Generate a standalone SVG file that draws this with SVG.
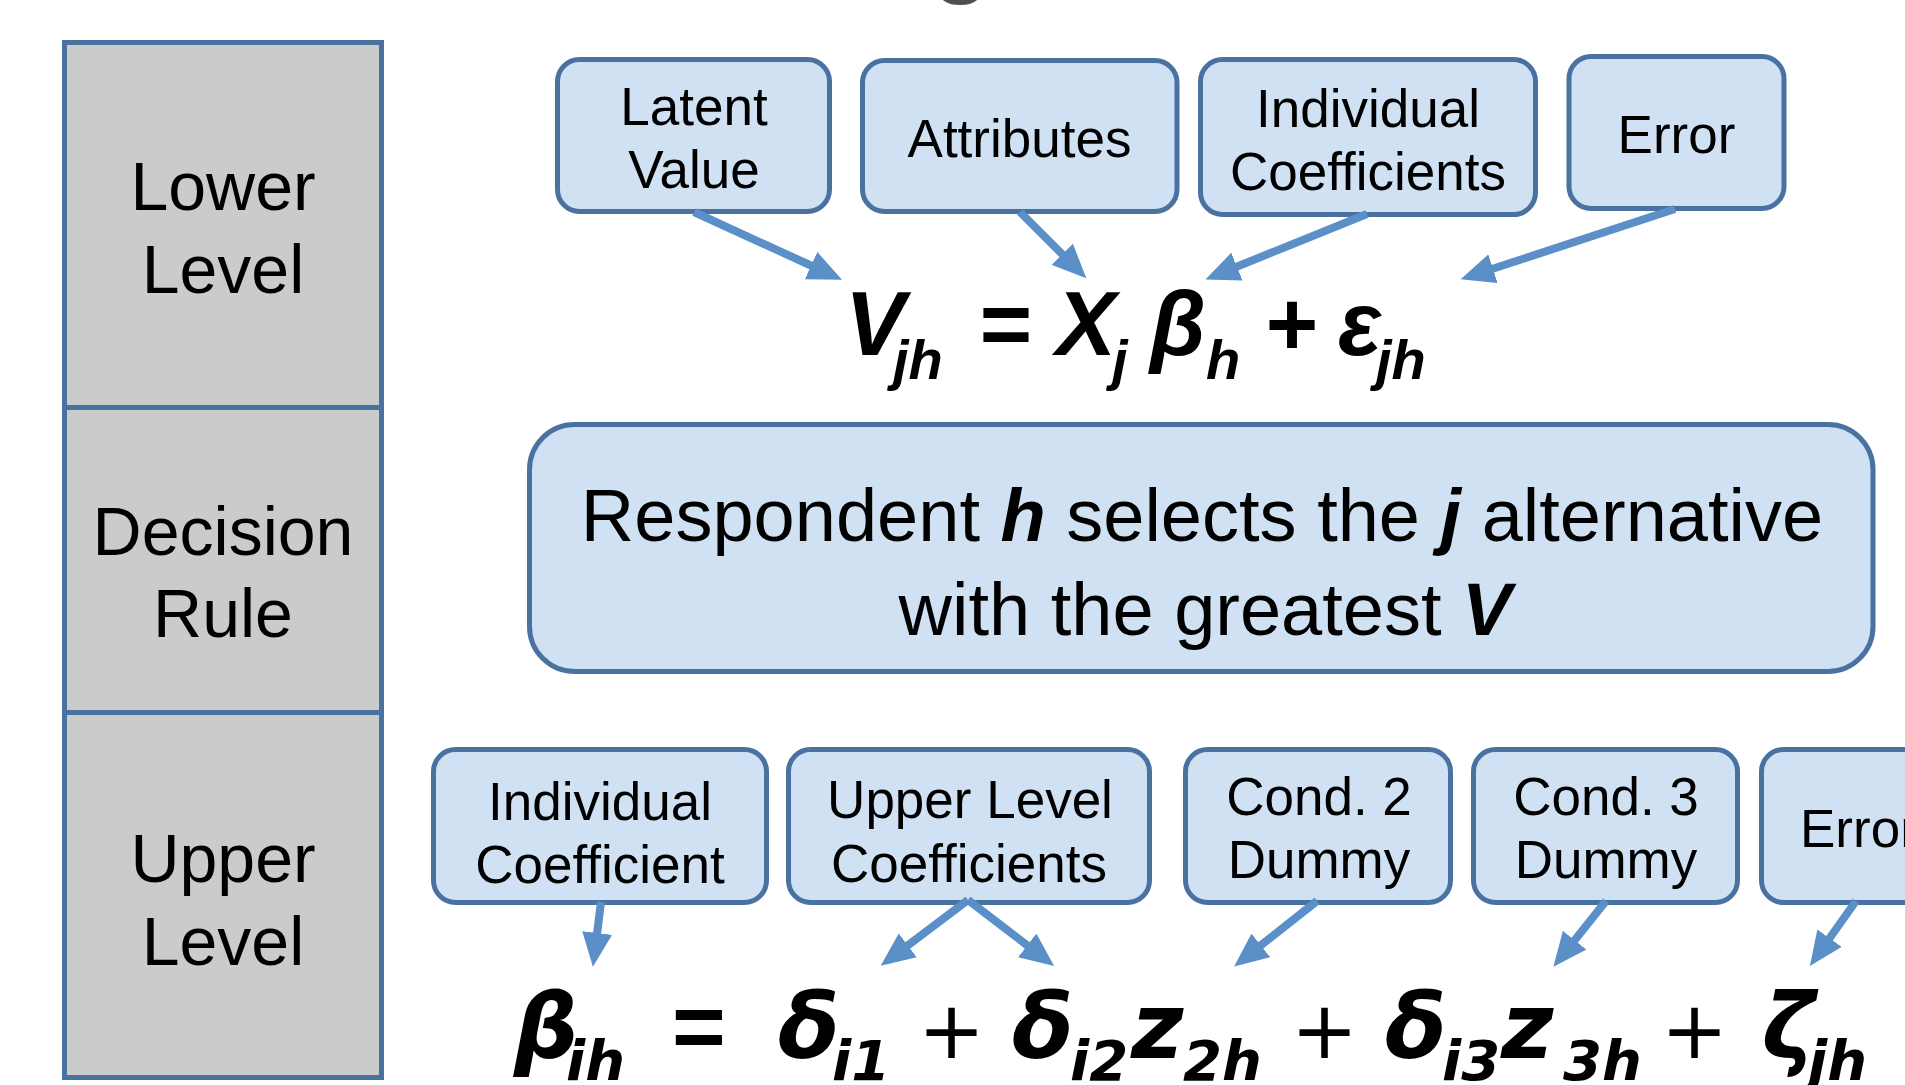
<svg xmlns="http://www.w3.org/2000/svg" width="1905" height="1085" viewBox="0 0 1905 1085">
<defs>
<style>
.col{fill:#cbcbcb;stroke:#4a72a0;stroke-width:5}
.box{fill:#d0e1f3;stroke:#4a72a0;stroke-width:5}
.lbl{font-family:"Liberation Sans",Arial,sans-serif;font-size:53px;fill:#000;text-anchor:middle}
.side{font-family:"Liberation Sans",Arial,sans-serif;font-size:68px;fill:#000;text-anchor:middle}
.rule{font-family:"Liberation Sans",Arial,sans-serif;font-size:74px;fill:#000;text-anchor:middle}
.bi{font-weight:bold;font-style:italic}
.eq1{font-family:"Liberation Sans",Arial,sans-serif;font-weight:bold;font-style:italic;fill:#000}
.eq2{font-family:"DejaVu Sans",sans-serif;font-weight:bold;font-style:oblique;fill:#000}
.conn line{stroke:#5a8fc8;stroke-width:8;marker-end:url(#ah)}
</style>
<marker id="ah" markerUnits="userSpaceOnUse" markerWidth="34" markerHeight="30" viewBox="0 0 34 30" refX="1" refY="15" orient="auto">
<path d="M0,0 L34,15 L0,30 z" fill="#5a8fc8"/>
</marker>
</defs>
<rect width="1905" height="1085" fill="#fff"/>
<text x="932" y="-15" font-family="Liberation Sans,sans-serif" font-weight="bold" font-size="96" fill="#4f4f4f">g</text>

<g id="lower-level">
<rect class="col" x="64.5" y="42.5" width="317" height="365"/>
<text class="side" x="223" y="210">Lower</text>
<text class="side" x="223" y="293">Level</text>
</g>
<g id="decision-rule">
<rect class="col" x="64.5" y="407.5" width="317" height="305"/>
<text class="side" x="223" y="555">Decision</text>
<text class="side" x="223" y="637">Rule</text>
</g>
<g id="upper-level">
<rect class="col" x="64.5" y="712.5" width="317" height="365"/>
<text class="side" x="223" y="882">Upper</text>
<text class="side" x="223" y="965">Level</text>
</g>

<g id="latent-value">
<rect class="box" x="557.5" y="59.5" width="272" height="152" rx="22"/>
<text class="lbl" x="694" y="125">Latent</text>
<text class="lbl" x="694" y="188">Value</text>
</g>
<g id="attributes">
<rect class="box" x="862.5" y="60.5" width="314.5" height="151" rx="22"/>
<text class="lbl" x="1019.5" y="157">Attributes</text>
</g>
<g id="individual-coefficients">
<rect class="box" x="1200.5" y="59.5" width="335" height="155" rx="22"/>
<text class="lbl" x="1368" y="127">Individual</text>
<text class="lbl" x="1368" y="190">Coefficients</text>
</g>
<g id="error-top">
<rect class="box" x="1569" y="56.5" width="215" height="152" rx="22"/>
<text class="lbl" x="1676.5" y="153">Error</text>
</g>

<g id="equation-lower">
<text class="eq1" font-size="90" y="355"><tspan x="845">V</tspan><tspan x="978">=</tspan><tspan x="1056">X</tspan><tspan x="1150">β</tspan><tspan x="1264">+</tspan><tspan x="1338">ε</tspan></text>
<text class="eq1" font-size="56" y="379"><tspan x="893">jh</tspan><tspan x="1112">j</tspan><tspan x="1206">h</tspan><tspan x="1376">jh</tspan></text>
</g>

<g id="decision-box">
<rect class="box" x="529.5" y="424.5" width="1343.5" height="247" rx="45"/>
<text class="rule" x="1202" y="541">Respondent <tspan class="bi">h</tspan> selects the <tspan class="bi">j</tspan> alternative</text>
<text class="rule" x="1205" y="635">with the greatest <tspan class="bi">V</tspan></text>
</g>

<g id="individual-coefficient">
<rect class="box" x="433.5" y="749.5" width="333" height="153" rx="22"/>
<text class="lbl" x="600" y="820">Individual</text>
<text class="lbl" x="600" y="883">Coefficient</text>
</g>
<g id="upper-level-coefficients">
<rect class="box" x="788.5" y="749.5" width="361" height="153" rx="22"/>
<text class="lbl" x="970" y="818">Upper Level</text>
<text class="lbl" x="969" y="882">Coefficients</text>
</g>
<g id="cond2-dummy">
<rect class="box" x="1185.5" y="749.5" width="265" height="153" rx="22"/>
<text class="lbl" x="1319" y="815">Cond. 2</text>
<text class="lbl" x="1319" y="878">Dummy</text>
</g>
<g id="cond3-dummy">
<rect class="box" x="1473.5" y="749.5" width="264" height="153" rx="22"/>
<text class="lbl" x="1606" y="815">Cond. 3</text>
<text class="lbl" x="1606" y="878">Dummy</text>
</g>
<g id="error-bottom">
<rect class="box" x="1761.5" y="749.5" width="300" height="153" rx="22"/>
<text class="lbl" x="1800" y="847" style="text-anchor:start">Error</text>
</g>

<g id="equation-upper">
<text class="eq2" font-size="90" y="1058"><tspan x="514">β</tspan><tspan x="778">δ</tspan><tspan x="1012">δ</tspan><tspan x="1131">z</tspan><tspan x="1385">δ</tspan><tspan x="1501">z</tspan><tspan x="1762">ζ</tspan></text>
<text font-family="Liberation Sans,sans-serif" font-weight="bold" font-size="92" y="1058" x="672" fill="#000">=</text>
<text font-family="DejaVu Sans,sans-serif" font-style="oblique" font-size="80" y="1058" fill="#000"><tspan x="918">+</tspan><tspan x="1291">+</tspan><tspan x="1661">+</tspan></text>
<text class="eq2" font-size="56" y="1080"><tspan x="566">ih</tspan><tspan x="832">i1</tspan><tspan x="1070">i2</tspan><tspan x="1183">2h</tspan><tspan x="1442">i3</tspan><tspan x="1563">3h</tspan><tspan x="1808">jh</tspan></text>
</g>

<g id="connectors" class="conn">
<line x1="694" y1="212" x2="812" y2="266"/>
<line x1="1020" y1="212" x2="1063" y2="255"/>
<line x1="1367" y1="214" x2="1236" y2="267"/>
<line x1="1675" y1="209" x2="1492" y2="269"/>
<line x1="601" y1="902" x2="597" y2="934"/>
<line x1="968" y1="900" x2="907" y2="946"/>
<line x1="968" y1="900" x2="1028" y2="946"/>
<line x1="1317" y1="901" x2="1260" y2="946"/>
<line x1="1606" y1="901" x2="1574" y2="941"/>
<line x1="1856" y1="901" x2="1829" y2="939"/>
</g>
</svg>
